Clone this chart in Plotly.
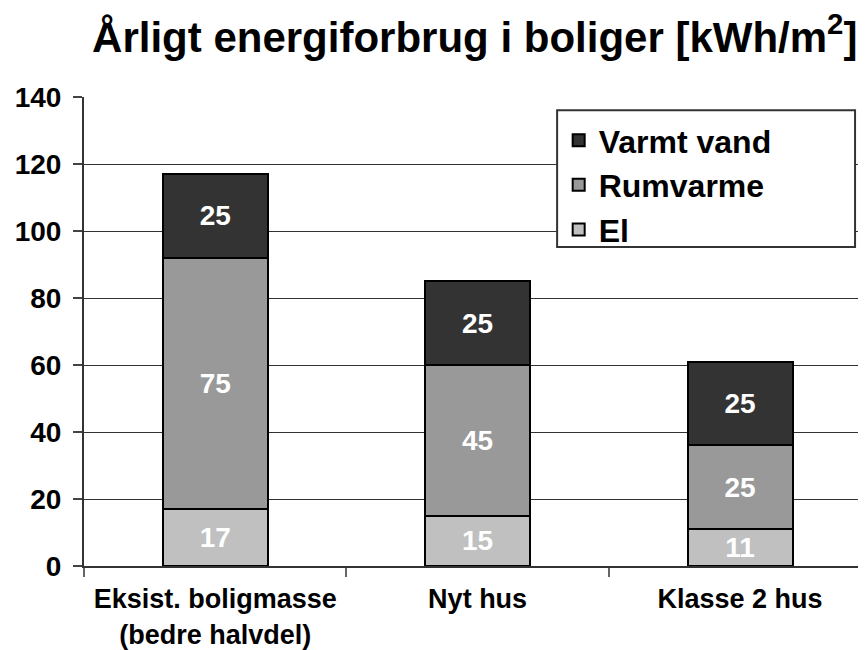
import plotly.graph_objects as go

categories = ["Eksist. boligmasse<br>(bedre halvdel)", "Nyt hus", "Klasse 2 hus"]
el = [17, 15, 11]
rumvarme = [75, 45, 25]
varmt_vand = [25, 25, 25]
series = [("El", el, "#c0c0c0"), ("Rumvarme", rumvarme, "#999999"), ("Varmt vand", varmt_vand, "#333333")]
y_ticks = [0, 20, 40, 60, 80, 100, 120, 140]

FONT = "Liberation Sans, Arial, sans-serif"

fig = go.Figure()
for name, vals, col in series:
    fig.add_trace(go.Bar(
        x=categories, y=vals, name=name,
        marker=dict(color=col, line=dict(color="#000000", width=2)),
        text=vals, textposition="inside", insidetextanchor="middle", textangle=0,
        textfont=dict(family=FONT, size=28, color="white", weight="bold"),
        constraintext="none", width=0.4,
    ))

# legend frame (drawn as a shape so it can be wider than the entries)
fig.add_shape(type="rect", xref="paper", yref="paper",
              x0=0.605, x1=0.986, y0=0.680, y1=0.972,
              line=dict(color="#333333", width=2), fillcolor="white", layer="above")

fig.update_layout(
    barmode="stack",
    width=858, height=642,
    margin=dict(l=76, r=0, t=89, b=84),
    paper_bgcolor="white", plot_bgcolor="white",
    title=dict(text="Årligt energiforbrug i boliger [kWh/m<sup>2</sup>]",
               font=dict(family=FONT, size=42, color="black", weight="bold"),
               x=0.544, xanchor="center", y=0.955, yanchor="middle", automargin=False),
    legend=dict(x=0.607, y=0.966, xanchor="left", yanchor="top",
                traceorder="reversed", bgcolor="rgba(0,0,0,0)",
                borderwidth=0,
                font=dict(family=FONT, size=32, color="black", weight="bold"),
                itemwidth=30, tracegroupgap=0),
    showlegend=True,
    uniformtext=dict(minsize=28, mode="show"),
)
fig.update_xaxes(
    type="category", range=[-0.5, 2.48], automargin=False, tickangle=0,
    showline=True, linecolor="#333333", linewidth=2,
    ticks="outside", tickson="boundaries", ticklen=9, tickcolor="#666666", tickwidth=2,
    ticklabelstandoff=8,
    tickfont=dict(family=FONT, size=27, color="black", weight="bold"),
    showgrid=False,
)
fig.update_yaxes(
    range=[0, 140], tickvals=y_ticks, automargin=False,
    showline=True, linecolor="#333333", linewidth=2,
    ticks="outside", ticklen=9, tickcolor="#444444", tickwidth=2, ticklabelstandoff=6,
    tickfont=dict(family=FONT, size=28, color="black", weight="bold"),
    showgrid=True, gridcolor="#333333", gridwidth=1, zeroline=False,
)

fig.write_html("out.html")
